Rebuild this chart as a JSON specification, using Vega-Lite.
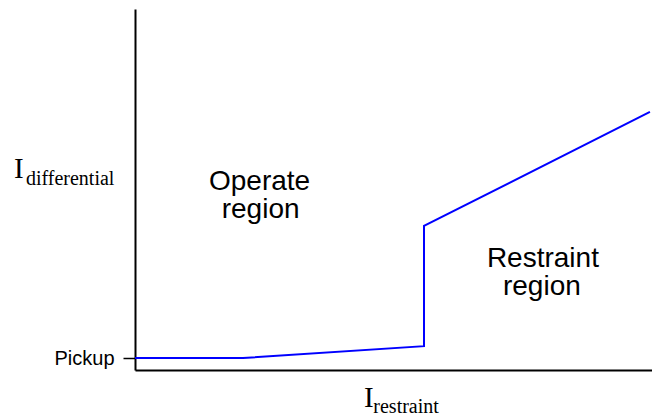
{
  "$schema": "https://vega.github.io/schema/vega-lite/v6.json",
  "width": 517,
  "height": 361,
  "autosize": "none",
  "padding": {"left": 135, "top": 9, "right": 0, "bottom": 47},
  "background": "white",
  "config": {"view": {"stroke": null}},
  "datasets": {
    "curve": [
      {"i": 1, "restraint": 0, "differential": 3.3},
      {"i": 2, "restraint": 20.9, "differential": 3.3},
      {"i": 3, "restraint": 55.9, "differential": 6.6},
      {"i": 4, "restraint": 55.9, "differential": 39.9},
      {"i": 5, "restraint": 99.6, "differential": 71.5}
    ],
    "regions": [
      {"label": "Operate", "restraint": 24.1, "differential": 49.9},
      {"label": "region", "restraint": 24.3, "differential": 42.1},
      {"label": "Restraint", "restraint": 78.9, "differential": 28.6},
      {"label": "region", "restraint": 78.7, "differential": 20.8}
    ],
    "bigI": [
      {"label": "I", "restraint": -23.4, "differential": 53.2},
      {"label": "I", "restraint": 44.3, "differential": -10.2}
    ],
    "subs": [
      {"label": "differential", "restraint": -21.1, "differential": 51.2},
      {"label": "restraint", "restraint": 46.1, "differential": -11.9}
    ]
  },
  "encoding": {
    "x": {
      "field": "restraint",
      "type": "quantitative",
      "scale": {"domain": [0, 100], "nice": false, "zero": false},
      "axis": {
        "title": null,
        "labels": false,
        "ticks": false,
        "grid": false,
        "domainColor": "black",
        "domainWidth": 2
      }
    },
    "y": {
      "field": "differential",
      "type": "quantitative",
      "scale": {"domain": [0, 100], "nice": false, "zero": false},
      "axis": {
        "title": null,
        "grid": false,
        "values": [3.3],
        "labelExpr": "'Pickup'",
        "labelFont": "Liberation Sans",
        "labelFontSize": 20,
        "labelColor": "black",
        "labelPadding": 9,
        "tickSize": 12,
        "tickWidth": 1.5,
        "tickColor": "black",
        "domainColor": "black",
        "domainWidth": 2
      }
    }
  },
  "layer": [
    {
      "data": {"name": "curve"},
      "mark": {"type": "line", "color": "#0000ff", "strokeWidth": 2},
      "encoding": {"order": {"field": "i", "type": "quantitative"}}
    },
    {
      "data": {"name": "regions"},
      "mark": {"type": "text", "font": "Liberation Sans", "fontSize": 28, "align": "center", "baseline": "alphabetic", "color": "black"},
      "encoding": {"text": {"field": "label"}}
    },
    {
      "data": {"name": "bigI"},
      "mark": {"type": "text", "font": "Liberation Serif", "fontSize": 29, "align": "left", "baseline": "alphabetic", "color": "black"},
      "encoding": {"text": {"field": "label"}}
    },
    {
      "data": {"name": "subs"},
      "mark": {"type": "text", "font": "Liberation Serif", "fontSize": 20, "align": "left", "baseline": "alphabetic", "color": "black"},
      "encoding": {"text": {"field": "label"}}
    }
  ]
}
